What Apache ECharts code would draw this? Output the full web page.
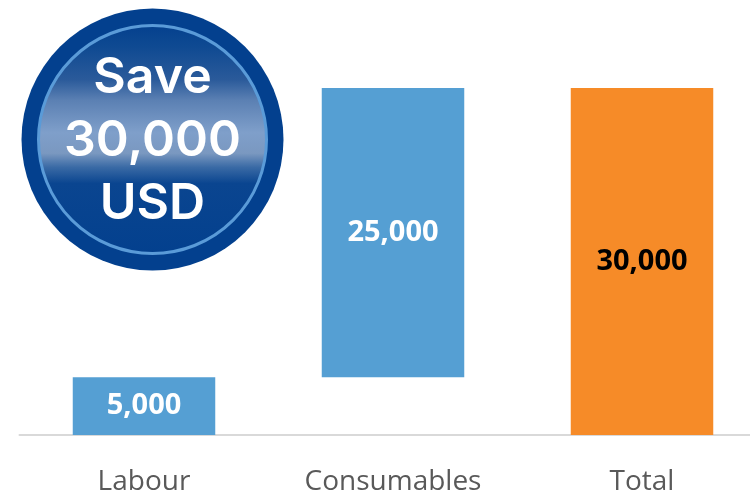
<!DOCTYPE html>
<html><head><meta charset="utf-8">
<style>html,body{margin:0;padding:0;background:#fff}#c{width:750px;height:493px}</style>
<script src="https://cdn.jsdelivr.net/npm/echarts@6/dist/echarts.min.js"></script></head>
<body><div id="c"></div>
<script>
const categories = ['Labour','Consumables','Total'];
const offsets = [0,5000,0];
const values = [5000,25000,30000];
const barColors = ['#559fd3','#559fd3','#f68b28'];
const labelColors = ['#ffffff','#ffffff','#000000'];
const badgeLines = ['Save','30,000','USD'];
const chart = echarts.init(document.getElementById('c'),null,{renderer:'canvas'});
const badgeText = (t,y)=>({type:'text',z:12,style:{text:t,x:152.5,y:y,align:'center',verticalAlign:'middle',fill:'#fff',font:'600 50px Inter',textAlign:'center',textVerticalAlign:'middle'}});
chart.setOption({
 animation:false,
 grid:{left:19.5,top:88,width:747,height:347,containLabel:false,outerBoundsMode:'none'},
 xAxis:{type:'category',data:categories,axisTick:{show:false},
  axisLine:{lineStyle:{color:'#d9d9d9',width:2}},
  axisLabel:{color:'#595959',fontSize:28,fontFamily:'Open Sans',margin:33,interval:0,hideOverlap:false}},
 yAxis:{type:'value',min:0,max:30000,show:false},
 series:[
  {type:'bar',stack:'w',data:offsets,barWidth:142.5,itemStyle:{color:'transparent'},silent:true},
  {type:'bar',stack:'w',barWidth:142.5,
   data:values.map((v,i)=>({value:v,itemStyle:{color:barColors[i]},
     label:{color:labelColors[i]}})),
   label:{show:true,position:'inside',fontSize:29,fontWeight:'bold',fontFamily:'Open Sans',
     formatter:p=>p.value.toLocaleString('en-US')}}
 ],
 graphic:[
  {type:'circle',z:10,shape:{cx:152.5,cy:139.5,r:131},style:{fill:'#03408e'}},
  {type:'circle',z:11,shape:{cx:152.5,cy:139.5,r:114},style:{
    stroke:'#5a9bd8',lineWidth:3,
    fill:new echarts.graphic.LinearGradient(0,0,0,1,[
     {offset:0,color:'#03408e'},{offset:0.1,color:'#0f4a92'},{offset:0.24,color:'#2a5a9a'},{offset:0.33,color:'#5b80b3'},
     {offset:0.47,color:'#7f9fca'},{offset:0.56,color:'#7a98c0'},{offset:0.62,color:'#3a6aa5'},{offset:0.69,color:'#0a4590'},{offset:1,color:'#03408e'}])}},
  badgeText(badgeLines[0],78),
  badgeText(badgeLines[1],141),
  badgeText(badgeLines[2],204)
 ]
});
</script></body></html>
